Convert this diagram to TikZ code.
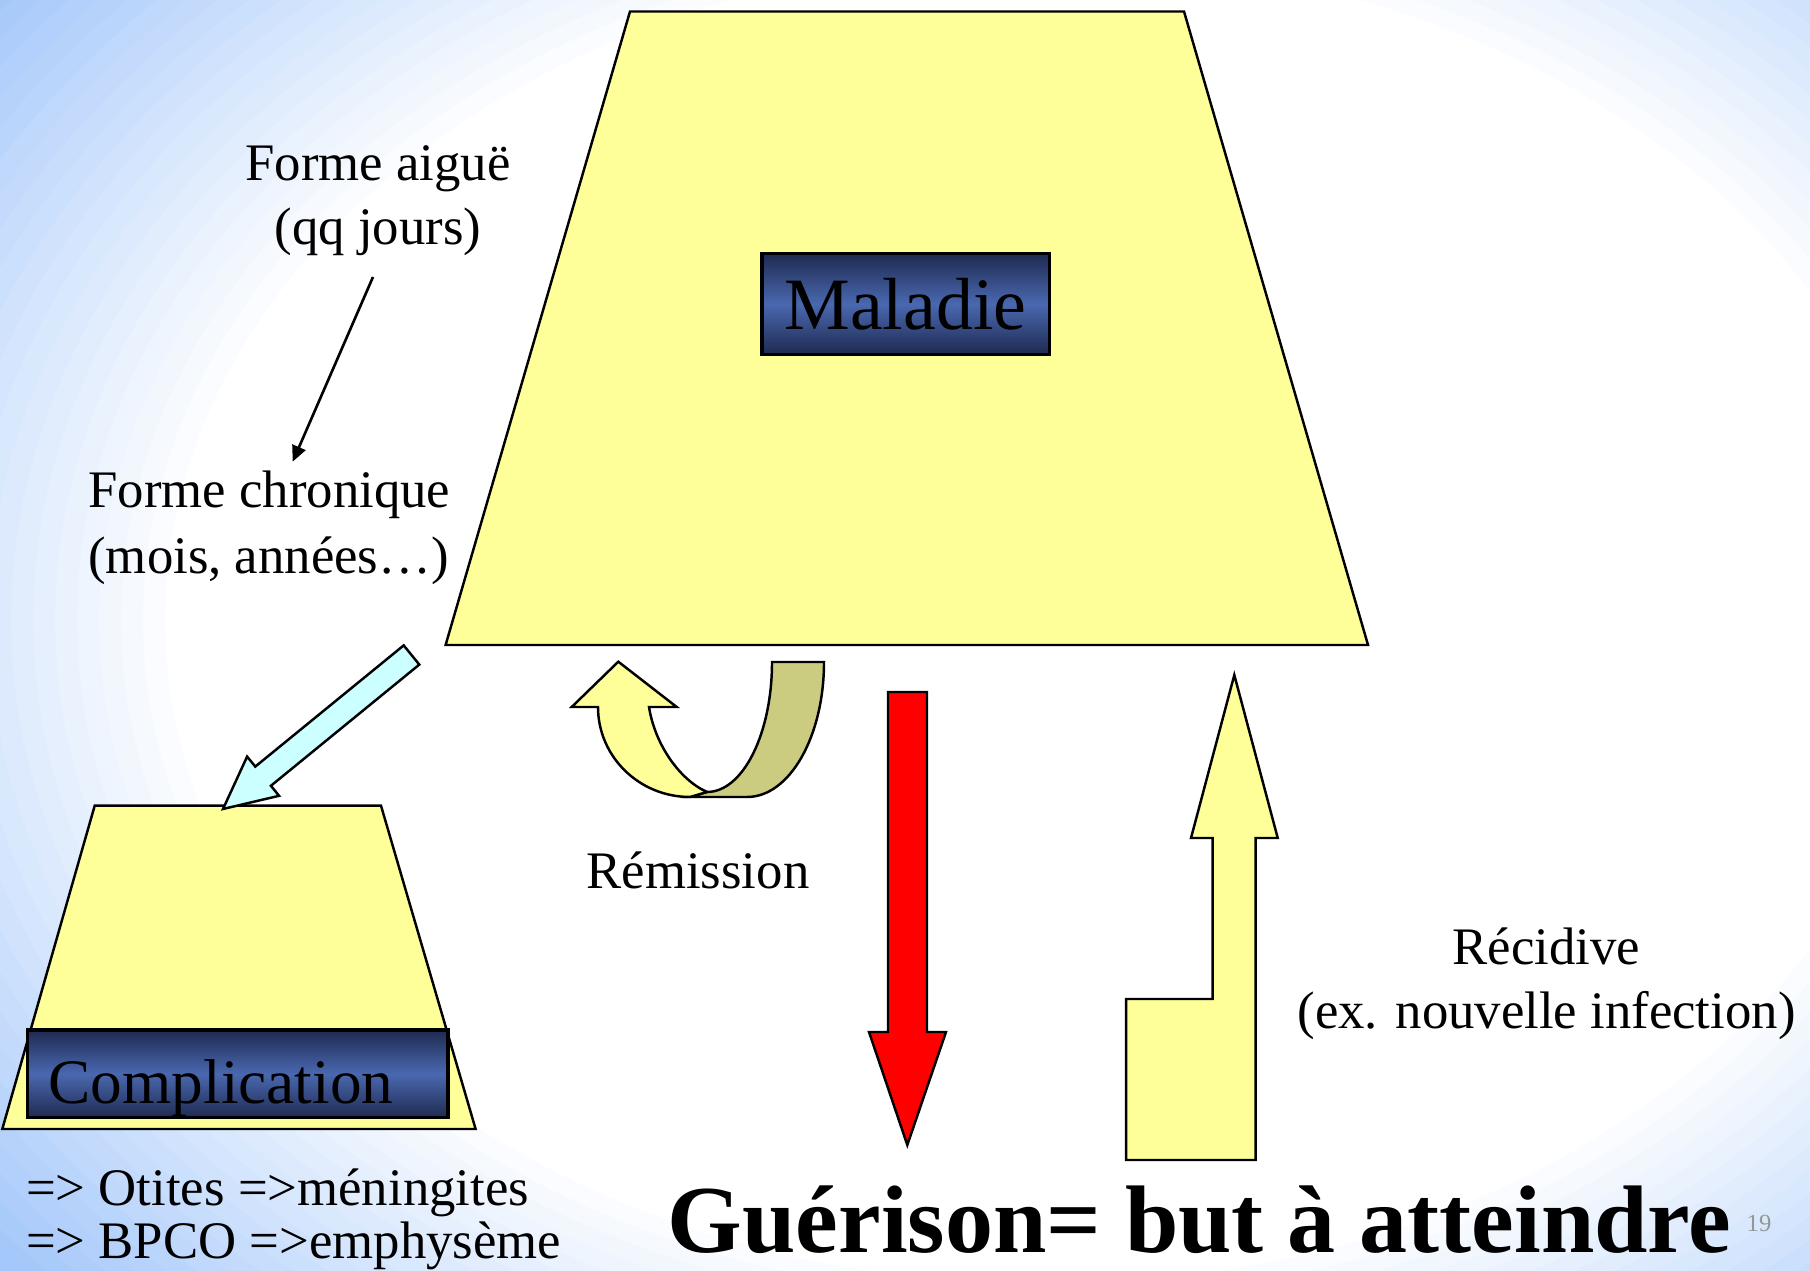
\documentclass[tikz,border=0pt]{standalone}
\usepackage{fontspec}
\setmainfont{Liberation Serif}
\usetikzlibrary{calc,arrows.meta}

\definecolor{bgblue}{RGB}{165,200,250}
\definecolor{padyellow}{RGB}{255,255,153}
\definecolor{boxdark}{RGB}{30,42,80}
\definecolor{boxmid}{RGB}{74,104,176}
\definecolor{flowcyan}{RGB}{204,255,255}
\definecolor{curlolive}{RGB}{204,204,128}
\definecolor{pagegray}{RGB}{150,150,150}

\begin{document}
\begin{tikzpicture}[x=0.01cm, y=-0.01cm,
  slab/.style={draw=black, line width=0.7pt, line join=miter},
  txt/.style={inner sep=0pt, font=\fontsize{15}{18.3}\selectfont},
  titlebox/.style={draw=black, line width=0.9pt, top color=boxdark,
    bottom color=boxdark, middle color=boxmid, inner sep=0pt}]
  \useasboundingbox (0,0) rectangle (1810,1271);
  % slide background, white in the middle, blue towards the corners
  \begin{scope}
    \clip (0,0) rectangle (1810,1271);
    \fill[bgblue] (0,0) rectangle (1810,1271);
    \foreach \i in {0,...,21}
    {
      \pgfmathsetmacro\rr{1.22-\i*0.02}
      \pgfmathsetmacro\pc{100-\i*100/21}
      \fill[bgblue!\pc!white] (1045,620) ellipse [x radius={1100*\rr}, y radius={830*\rr}];
    }
  \end{scope}

  % disease and complication
  \draw[slab, fill=padyellow] (630,11.5) -- (1184,11.5) -- (1368,645) -- (445.6,645) -- cycle;
  \draw[slab, fill=padyellow] (94.7,805.7) -- (381,805.7) -- (475.6,1129) -- (2.3,1129) -- cycle;
  \node[titlebox, minimum width=2.87cm, minimum height=1.01cm] (maladie)
    at (905.5,304) {\fontsize{21}{25}\selectfont Maladie};
  \node[titlebox, minimum width=4.2cm, minimum height=0.875cm] (compl) at (237.9,1073.8) {};
  \node[txt, font=\fontsize{18}{22}\selectfont, anchor=base west] (compltxt)
    at (48,1103) {Complication};

  % texts (base = last line)
  \node[txt, align=center, anchor=base] (aigue) at (378,244.7) {Forme aiguë\\(qq jours)};
  \node[txt, align=left, anchor=base west, font=\fontsize{15}{18.7}\selectfont] (chron)
    at (87.7,573.7) {Forme chronique\\(mois, années…)};
  \node[txt, anchor=base] (remis) at (698,889) {Rémission};
  \node[txt, align=center, anchor=base] (recid) at (1546.5,1028.5) {Récidive\\(ex. nouvelle infection)};
  \node[txt, align=left, anchor=base west, font=\fontsize{15}{14.8}\selectfont] (suites)
    at (25.4,1258) {=> Otites =>méningites\\=> BPCO =>emphysème};
  \node[txt, anchor=base west, font=\fontsize{27.3}{32}\bfseries] (guer)
    at (667,1252.5) {Guérison= but à atteindre};
  \node[txt, anchor=base west, font=\fontsize{7}{8}\selectfont, text=pagegray] (pnum)
    at (1746,1231.5) {19};

  % acute -> chronic
  \coordinate (acute-out) at (373,277);
  \coordinate (chronic-in) at (292.7,461.7);
  \draw[-{Triangle[length=4.5pt,width=4pt]}, line width=0.75pt] (acute-out) -- (chronic-in);

  % chronic -> complication
  \draw[slab, fill=flowcyan] (419.3,664.6) -- (403.7,645.4) -- (255.3,766.6) -- (247.1,756.6)
    -- (223,809) -- (279.1,795.8) -- (270.9,785.8) -- cycle;

  % remission curl
  \draw[slab, fill=curlolive] (772,662) -- (824,662) .. controls (824,736.6) and (789.5,797) .. (747,797)
    -- (690,797) -- (707,792) .. controls (742.9,792) and (772,733.8) .. (772,662) -- cycle;
  \draw[slab, fill=padyellow] (598,707) .. controls (598,756.7) and (639.2,797) .. (690,797)
    -- (707,792) .. controls (680,780) and (655,745) .. (649,707)
    -- (676.7,707) -- (618.3,661.7) -- (571.7,707) -- cycle;

  % cure and relapse
  \draw[slab, fill=red] (888,692) -- (927,692) -- (927,1032) -- (946,1032) -- (907.3,1145)
    -- (869,1032) -- (888,1032) -- cycle;
  \draw[slab, fill=padyellow] (1234.3,675) -- (1277.7,838) -- (1255.7,838) -- (1255.7,1160)
    -- (1126,1160) -- (1126,999) -- (1212.7,999) -- (1212.7,838) -- (1191,838) -- cycle;
\end{tikzpicture}
\end{document}
